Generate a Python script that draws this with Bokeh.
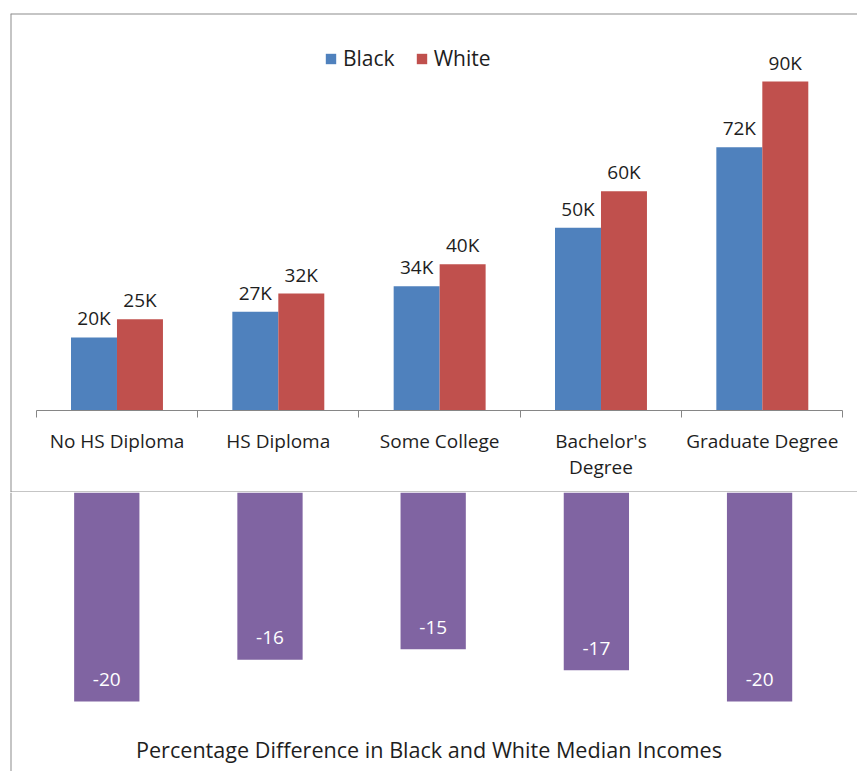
from bokeh.plotting import figure
from bokeh.layouts import column
from bokeh.models import ColumnDataSource, FixedTicker, Range1d, Span, Legend, LegendItem, Label
from bokeh.embed import file_html
from bokeh.resources import INLINE
from bokeh.core.properties import value

categories = ["No HS Diploma", "HS Diploma", "Some College", "Bachelor's\nDegree", "Graduate Degree"]
black_income = [20, 27, 34, 50, 72]
white_income = [25, 32, 40, 60, 90]
pct_diff = [-20, -16, -15, -17, -20]
series_names = ["Black", "White"]
bottom_title = "Percentage Difference in Black and White Median Incomes"

FONT = "Open Sans"
BLUE = "#4F81BD"
RED = "#C0504D"
PURPLE = "#8064A2"
BORDER = "#8C8C8C"
AXIS = "#868686"
TEXT = "#1e1e1e"

n = len(categories)
centers = [i + 0.5 for i in range(n)]
bw = 0.285

src = ColumnDataSource(dict(
    xb=[c - bw / 2 for c in centers],
    xw=[c + bw / 2 for c in centers],
    black=black_income,
    white=white_income,
    blab=[f"{v}K" for v in black_income],
    wlab=[f"{v}K" for v in white_income],
))

top = figure(width=857, height=492, x_range=Range1d(-0.16, 5.09), y_range=Range1d(-22.4, 108.6),
             output_backend="svg", toolbar_location=None, y_axis_location=None,
             min_border_left=10, min_border_right=0, min_border_top=13, min_border_bottom=0)
top.outline_line_color = None
top.grid.visible = False

rb = top.vbar(x="xb", top="black", width=bw, bottom=0, source=src, fill_color=BLUE, line_color=None)
rw = top.vbar(x="xw", top="white", width=bw, bottom=0, source=src, fill_color=RED, line_color=None)

for xcol, ycol, tcol in [("xb", "black", "blab"), ("xw", "white", "wlab")]:
    top.text(x=xcol, y=ycol, text=tcol, source=src, text_align="center", text_baseline="alphabetic",
             y_offset=-19, text_font=value(FONT), text_font_size="19px", text_color=TEXT)

ax = top.xaxis[0]
ax.fixed_location = 0
ax.bounds = (0, n)
ax.ticker = FixedTicker(ticks=centers, minor_ticks=list(range(n + 1)))
ax.major_label_overrides = {c: lab for c, lab in zip(centers, categories)}
ax.major_tick_line_color = None
ax.major_tick_out = 0
ax.major_tick_in = 0
ax.minor_tick_line_color = AXIS
ax.minor_tick_out = 7
ax.minor_tick_in = 0
ax.axis_line_color = AXIS
ax.major_label_standoff = 10
ax.major_label_text_font = FONT
ax.major_label_text_font_size = "19px"
ax.major_label_text_line_height = 1.0
ax.major_label_text_color = TEXT

legend = Legend(items=[LegendItem(label=series_names[0], renderers=[rb]),
                       LegendItem(label=series_names[1], renderers=[rw])],
                orientation="horizontal", location=(314, 420),
                label_text_font=FONT, label_text_font_size="21px", label_text_color=TEXT,
                border_line_color=None, background_fill_alpha=0,
                glyph_width=13, glyph_height=13, spacing=20, label_standoff=6, padding=0, margin=0)
top.add_layout(legend, "center")

for loc, dim in [(top.y_range.end, "width"), (top.x_range.start, "height"), (top.y_range.start, "width")]:
    top.add_layout(Span(location=loc, dimension=dim, line_color=BORDER, line_width=2))

# bottom chart
src2 = ColumnDataSource(dict(x=centers, v=pct_diff, lab=[str(v) for v in pct_diff]))

bot = figure(width=857, height=279, x_range=Range1d(-0.09, 5.1), y_range=Range1d(-26.7, 0),
             output_backend="svg", toolbar_location=None, x_axis_location=None, y_axis_location=None,
             min_border_left=10, min_border_right=0, min_border_top=0, min_border_bottom=0)
bot.outline_line_color = None
bot.grid.visible = False

bot.vbar(x="x", top=0, bottom="v", width=0.4, source=src2, fill_color=PURPLE, line_color=None)
bot.text(x="x", y="v", text="lab", source=src2, text_align="center", text_baseline="alphabetic",
         y_offset=-22, text_font=value(FONT), text_font_size="19px", text_color="white")
bot.add_layout(Span(location=bot.x_range.start, dimension="height", line_color=BORDER, line_width=2))

title_label = Label(x=(bot.x_range.start + bot.x_range.end) / 2, y=bot.y_range.start,
                    x_offset=-5, y_offset=22,
                    text=bottom_title, text_align="center", text_baseline="alphabetic",
                    text_font=FONT, text_font_size="21.6px", text_color=TEXT)
bot.add_layout(title_label)

layout = column(top, bot, spacing=0)
open("out.html", "w").write(file_html(layout, INLINE))
